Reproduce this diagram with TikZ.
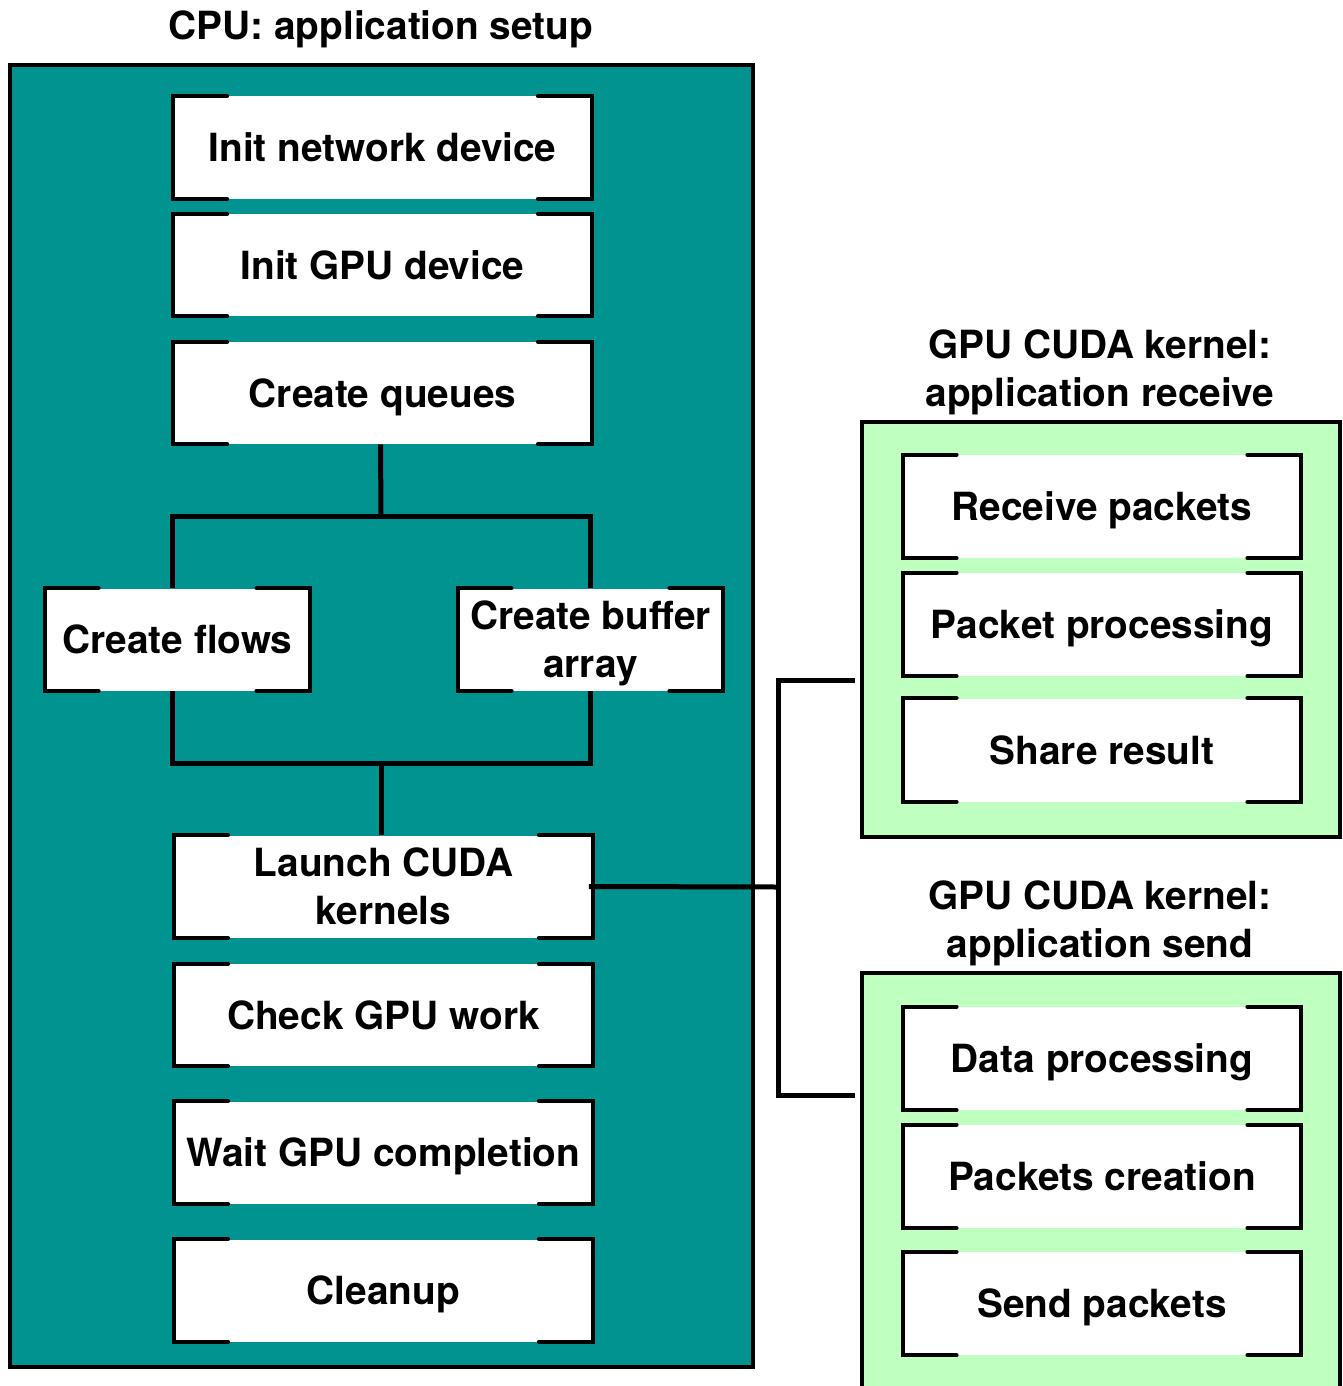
\documentclass[tikz,border=0pt]{standalone}
\usepackage{fontspec}
\setmainfont{TeX Gyre Heros}
\definecolor{cputeal}{RGB}{0,147,143}
\definecolor{gpugreen}{RGB}{191,255,191}
\newcommand\bracketbox[1]{%
  \draw[brkline] ([xshift=27pt]#1.north west) -- (#1.north west) -- (#1.south west) -- ([xshift=27pt]#1.south west);
  \draw[brkline] ([xshift=-27pt]#1.north east) -- (#1.north east) -- (#1.south east) -- ([xshift=-27pt]#1.south east);}
\begin{document}
\begin{tikzpicture}[x=0.5pt,y=-0.5pt,
  txt/.style={font=\bfseries\fontsize{19.4}{24}\selectfont, align=center, inner sep=0pt},
  one/.style={text height=14pt, text depth=0pt},
  box/.style={txt, fill=white, minimum width=209pt, minimum height=51pt},
  gbox/.style={txt, one, fill=white, minimum width=199pt, minimum height=51.5pt},
  sbox/.style={txt, fill=white, minimum width=132.5pt, minimum height=51pt},
  brkline/.style={line width=2pt, line cap=round},
  cont/.style={line width=2pt},
  conn/.style={line width=2.5pt}]
\useasboundingbox (0,0) rectangle (1343,1386);
% containers
\draw[cont, fill=cputeal] (10,65) rectangle (753,1367);
\draw[cont, fill=gpugreen] (862,422) rectangle (1340,837);
\fill[gpugreen] (862,973) rectangle (1340,1386);
\draw[cont] (862,1386) -- (862,973) -- (1340,973) -- (1340,1386);
% titles
\node[txt, one] (cputitle) at (381,26) {CPU: application setup};
\node[txt] (rxtitle) at (1100,372.5) {GPU CUDA kernel:\\application receive};
\node[txt] (txtitle) at (1100,923.5) {GPU CUDA kernel:\\application send};
% CPU boxes
\node[box, one] (net) at (382.5,147.5) {Init network device};
\node[box, one] (gpu) at (382.5,265) {Init GPU device};
\node[box, one] (queues) at (382.5,393) {Create queues};
\node[sbox, one] (flows) at (177.5,639.5) {Create flows};
\node[sbox, text depth=0pt] (buffer) at (590.5,639.5) {Create buffer\\array};
\node[box] (launch) at (383.5,886.5) {Launch CUDA\\kernels};
\node[box, one] (check) at (383.5,1015) {Check GPU work};
\node[box, one] (wait) at (383.5,1152.5) {Wait GPU completion};
\node[box, one] (cleanup) at (383.5,1290.5) {Cleanup};
% GPU boxes
\node[gbox] (recv) at (1102,506.5) {Receive packets};
\node[gbox] (proc) at (1102,624.5) {Packet processing};
\node[gbox] (share) at (1102,750) {Share result};
\node[gbox] (data) at (1102,1058.5) {Data processing};
\node[gbox] (create) at (1102,1176.5) {Packets creation};
\node[gbox] (send) at (1102,1303.5) {Send packets};
% junctions
\coordinate (j1) at (381,516);
\coordinate (j2) at (381,763);
\coordinate (j3) at (778,887);
\coordinate (c1) at (855,680);
\coordinate (c2) at (855,1095);
% connectors
\draw[conn] ([xshift=-1pt]queues.south) -- (j1);
\draw[conn] ([xshift=-2.75pt]flows.north) |- (j1) -| ([xshift=-0.25pt]buffer.north);
\draw[conn] ([xshift=-2.75pt]flows.south) |- (j2) -| ([xshift=-0.25pt]buffer.south);
\draw[conn] (j2) -- ([xshift=-1.25pt]launch.north);
\draw[conn] ([xshift=-2pt]launch.east) -- (j3);
\draw[conn] (c1) -| (j3) |- (c2);
% brackets
\foreach \n in {net,gpu,queues,flows,buffer,launch,check,wait,cleanup,recv,proc,share,data,create,send}{\bracketbox{\n}}
\end{tikzpicture}
\end{document}
